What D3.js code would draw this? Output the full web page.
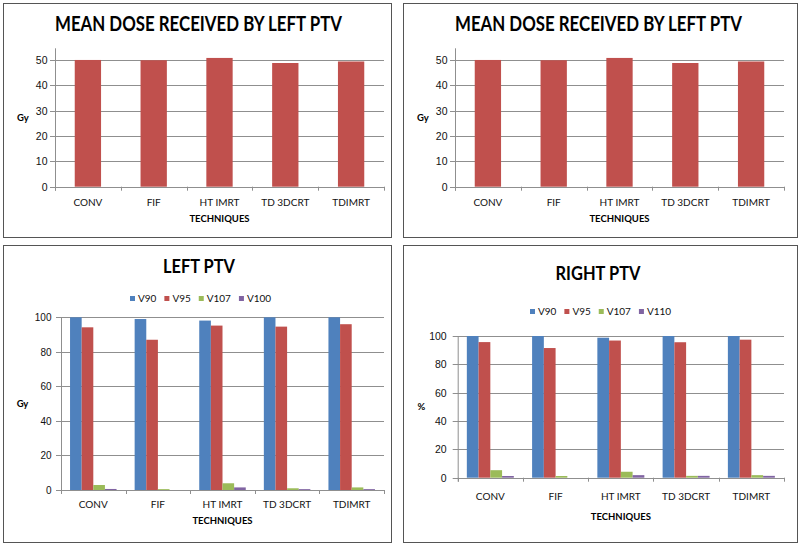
<!DOCTYPE html>
<html lang="en">
<head>
    <meta charset="UTF-8">
    <title>PTV dose charts</title>
    <script src="https://cdn.jsdelivr.net/npm/d3@7/dist/d3.min.js"></script>
    <style>
        body { margin: 0; background: #fff; }
        svg { display: block; font-family: Lato, "Open Sans", sans-serif; }
        .grid line { stroke: #8f8f8f; stroke-width: 1; }
        .axis path, .axis line { stroke: #8f8f8f; }
        .axis text { fill: #111; }
    </style>
</head>
<body>
    <svg width="799" height="544"></svg>

    <script>
        // data
        const categories = ["CONV", "FIF", "HT IMRT", "TD 3DCRT", "TDIMRT"];

        const meanDose = [50.0, 49.9, 50.8, 48.8, 49.4];
        const meanTicks = [0, 10, 20, 30, 40, 50];

        const leftSeries = ["V90", "V95", "V107", "V100"];
        const leftV90  = [100, 99.0, 98.1, 100, 100];
        const leftV95  = [94.2, 87.0, 95.2, 94.6, 96.0];
        const leftV107 = [2.9, 0.5, 3.9, 1.0, 1.5];
        const leftV100 = [0.6, 0.0, 1.5, 0.5, 0.5];

        const rightSeries = ["V90", "V95", "V107", "V110"];
        const rightV90  = [100, 100, 98.8, 100, 100];
        const rightV95  = [95.7, 91.5, 96.8, 95.6, 97.4];
        const rightV107 = [5.3, 1.2, 4.2, 1.3, 1.8];
        const rightV110 = [1.2, 0.0, 1.8, 1.3, 1.3];

        const pctTicks = [0, 20, 40, 60, 80, 100];

        const seriesColors = ["#4F81BD", "#C0504D", "#9BBB59", "#8064A2"];
        const barColor = "#C0504D";

        const svg = d3.select("svg");

        function panel(p) {
            const g = svg.append("g");

            g.append("rect")
                .attr("x", p.box[0] + 0.5).attr("y", p.box[1] + 0.5)
                .attr("width", p.box[2] - p.box[0]).attr("height", p.box[3] - p.box[1])
                .attr("fill", "#fff").attr("stroke", "#555");

            const x = d3.scaleBand().domain(categories).range([p.l, p.r]);
            const y = d3.scaleLinear().domain([0, p.yMax]).range([p.b, p.t]);

            // gridlines, starting at the tick mark left of the axis
            g.append("g").attr("class", "grid")
                .selectAll("line").data(p.ticks).join("line")
                .attr("x1", p.l - 5).attr("x2", p.r)
                .attr("y1", d => Math.round(y(d)) + 0.5)
                .attr("y2", d => Math.round(y(d)) + 0.5);

            // y axis labels
            g.append("g").attr("class", "axis")
                .attr("transform", `translate(${p.l + 0.5},0)`)
                .call(d3.axisLeft(y).tickValues(p.ticks).tickSize(0).tickPadding(p.tickPad))
                .call(a => a.select(".domain").remove())
                .selectAll("text").attr("font-size", p.tickFont);

            g.append("line")
                .attr("x1", p.l + 0.5).attr("x2", p.l + 0.5)
                .attr("y1", p.t).attr("y2", p.b + 4)
                .attr("stroke", "#8f8f8f");

            // x axis ticks between categories
            const bounds = categories.map(c => x(c)).concat([p.r]);
            g.append("g")
                .selectAll("line").data(bounds).join("line")
                .attr("x1", d => Math.round(d) + 0.5).attr("x2", d => Math.round(d) + 0.5)
                .attr("y1", p.b).attr("y2", p.b + 4)
                .attr("stroke", "#8f8f8f");

            // bars
            if (p.series) {
                const inner = d3.scaleBand().domain(p.series)
                    .range([0, x.bandwidth() * p.barFrac]);
                const off = x.bandwidth() * (1 - p.barFrac) / 2;
                p.series.forEach((s, si) => {
                    g.append("g").attr("fill", seriesColors[si])
                        .selectAll("rect").data(p.values[si]).join("rect")
                        .attr("x", (d, i) => x(categories[i]) + off + inner(s))
                        .attr("width", inner.bandwidth())
                        .attr("y", d => y(d))
                        .attr("height", d => y(0) - y(d));
                });
            } else {
                const w = x.bandwidth() * p.barFrac;
                g.append("g").attr("fill", barColor)
                    .selectAll("rect").data(p.values).join("rect")
                    .attr("x", (d, i) => x(categories[i]) + (x.bandwidth() - w) / 2)
                    .attr("width", w)
                    .attr("y", d => y(d))
                    .attr("height", d => y(0) - y(d));
            }

            // category labels
            g.append("g")
                .selectAll("text").data(categories).join("text")
                .attr("x", d => x(d) + x.bandwidth() / 2)
                .attr("y", p.catY)
                .attr("text-anchor", "middle")
                .attr("font-size", p.catFont)
                .attr("fill", "#111")
                .text(d => d);

            g.append("text")
                .attr("x", (p.l + p.r) / 2).attr("y", p.xTitleY)
                .attr("text-anchor", "middle")
                .attr("font-size", 9.5).attr("font-weight", "bold")
                .attr("fill", "#000")
                .text("TECHNIQUES");

            g.append("text")
                .attr("x", p.yLabelX).attr("y", p.yLabelY)
                .attr("text-anchor", "middle")
                .attr("font-size", 9.5).attr("font-weight", "bold")
                .attr("fill", "#000")
                .text(p.yLabel);

            // title
            g.append("text")
                .attr("x", p.titleX).attr("y", p.titleY)
                .attr("text-anchor", "middle")
                .attr("font-size", p.titleFont).attr("font-weight", "bold")
                .attr("textLength", p.titleLen).attr("lengthAdjust", "spacingAndGlyphs")
                .attr("fill", "#000")
                .text(p.title);

            // legend
            if (p.series) {
                const lg = g.append("g");
                let cx = p.legendX;
                p.series.forEach((s, si) => {
                    lg.append("rect")
                        .attr("x", cx).attr("y", p.legendY - 6)
                        .attr("width", 5).attr("height", 5)
                        .attr("fill", seriesColors[si]);
                    const t = lg.append("text")
                        .attr("x", cx + 8).attr("y", p.legendY)
                        .attr("font-size", 10).attr("fill", "#111")
                        .text(s);
                    cx += 8 + t.node().getComputedTextLength() + 8;
                });
            }
        }

        panel({
            box: [3, 3, 391, 237], l: 55, r: 384, t: 48.3, b: 186.7, yMax: 54.6,
            ticks: meanTicks, values: meanDose, barFrac: 0.40,
            tickPad: 8, tickFont: 10.5, catFont: 10, catY: 205.5, xTitleY: 221.5,
            yLabel: "Gy", yLabelX: 22.8, yLabelY: 121,
            title: "MEAN DOSE RECEIVED BY LEFT PTV", titleX: 198.5, titleY: 31, titleLen: 287, titleFont: 20
        });

        panel({
            box: [403, 3, 797, 237], l: 455, r: 784, t: 48.3, b: 186.7, yMax: 54.6,
            ticks: meanTicks, values: meanDose, barFrac: 0.40,
            tickPad: 8, tickFont: 10.5, catFont: 10, catY: 205.5, xTitleY: 221.5,
            yLabel: "Gy", yLabelX: 422.8, yLabelY: 121,
            title: "MEAN DOSE RECEIVED BY LEFT PTV", titleX: 598.5, titleY: 31, titleLen: 287, titleFont: 20
        });

        panel({
            box: [3, 245, 391, 542], l: 61, r: 384, t: 317.3, b: 490, yMax: 100,
            ticks: pctTicks, series: leftSeries,
            values: [leftV90, leftV95, leftV107, leftV100], barFrac: 0.72,
            tickPad: 10, tickFont: 10, catFont: 10, catY: 508, xTitleY: 524,
            yLabel: "Gy", yLabelX: 22.5, yLabelY: 407,
            title: "LEFT PTV", titleX: 199, titleY: 273.3, titleLen: 72, titleFont: 18,
            legendX: 130, legendY: 302
        });

        panel({
            box: [403, 245, 797, 542], l: 457.7, r: 784, t: 336, b: 477.7, yMax: 100,
            ticks: pctTicks, series: rightSeries,
            values: [rightV90, rightV95, rightV107, rightV110], barFrac: 0.72,
            tickPad: 11.5, tickFont: 10.5, catFont: 10, catY: 500, xTitleY: 520,
            yLabel: "%", yLabelX: 421.3, yLabelY: 410,
            title: "RIGHT PTV", titleX: 598, titleY: 280, titleLen: 85, titleFont: 19,
            legendX: 530, legendY: 315
        });
    </script>
</body>
</html>
